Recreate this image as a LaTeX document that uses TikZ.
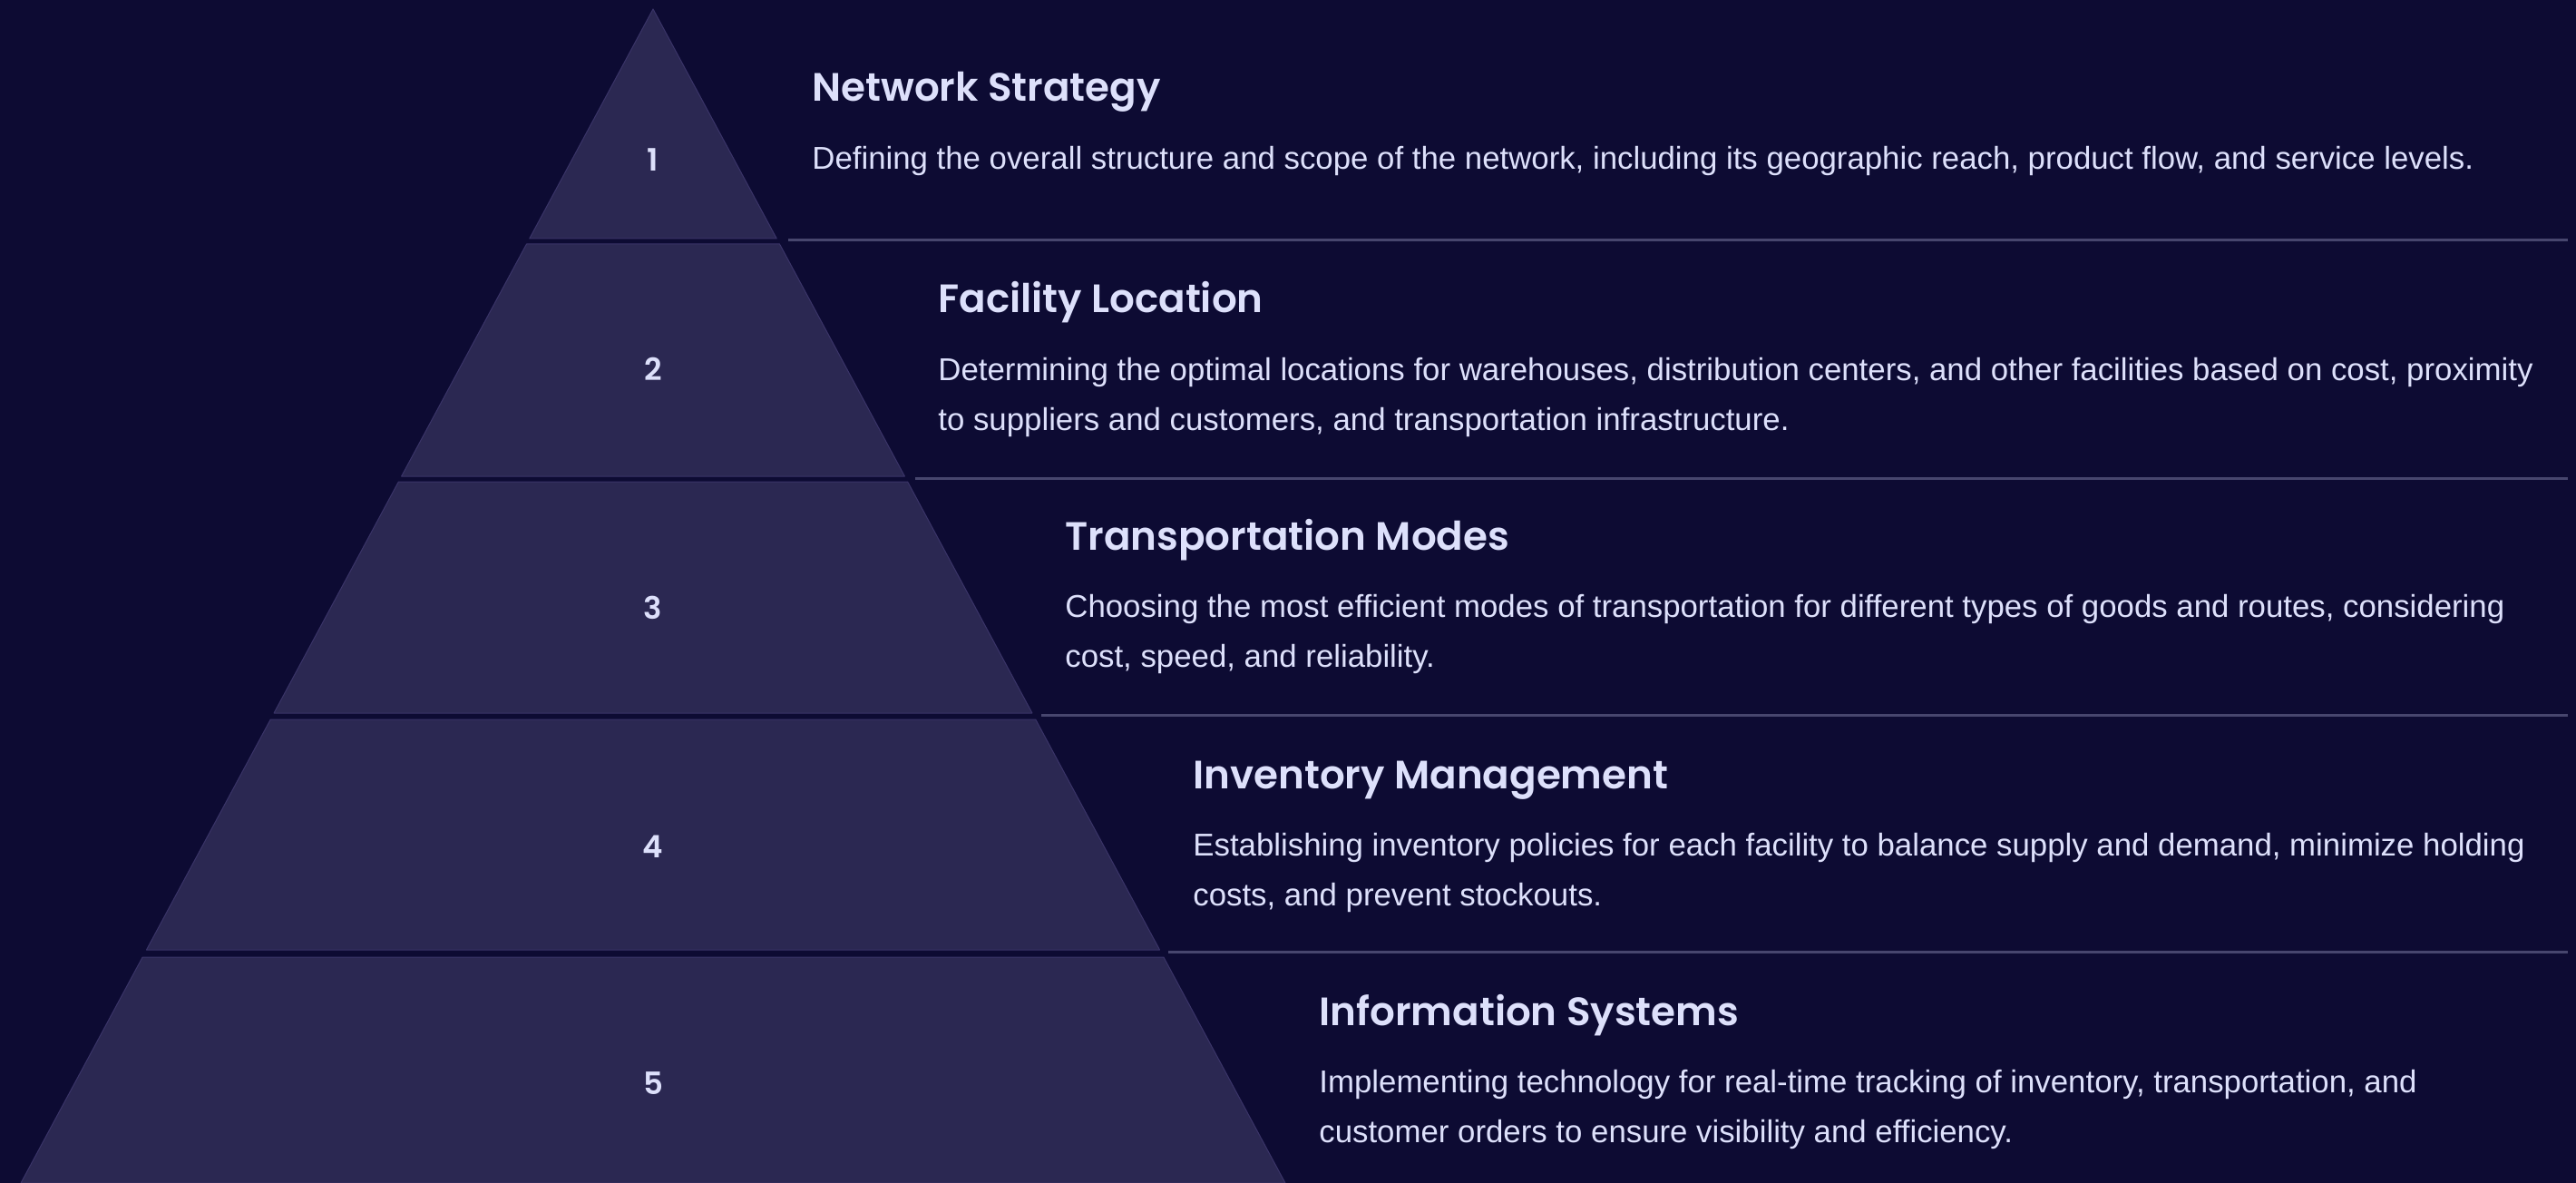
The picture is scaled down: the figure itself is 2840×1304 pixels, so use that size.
\documentclass[tikz,border=0pt]{standalone}
\usepackage{fontspec}
\setmainfont{Liberation Sans}
\newfontfamily\headfont{Poppins SemiBold}
\newfontfamily\numfont{Poppins SemiBold}
\definecolor{bg}{HTML}{0D0B33}
\definecolor{tier}{HTML}{2B2852}
\definecolor{tieredge}{HTML}{3A3468}
\definecolor{ink}{HTML}{DDE0FB}
\definecolor{rule}{HTML}{47466E}
\begin{document}
\begin{tikzpicture}[x=0.5pt,y=-0.5pt,
  tierbox/.style={fill=tier,draw=tieredge,line width=0.5pt,line join=round},
  tiernum/.style={font=\numfont\fontsize{17}{17}\selectfont,text=ink,inner sep=0pt},
  heading/.style={font=\headfont\fontsize{21.8}{24}\selectfont,text=ink,inner sep=0pt,anchor=base west},
  body/.style={font=\fontsize{17.4}{27.2}\selectfont,text=ink,inner sep=0pt,anchor=base west,align=left},
  divider/.style={draw=rule,line width=1.5pt}]
  % canvas
  \fill[bg] (0,0) rectangle (2840,1304);
  \useasboundingbox (0,0) rectangle (2840,1304);
  % pyramid tiers: apex at (720,10), sides widen by 0.5386 per unit of depth
  \foreach \i/\ta/\tb in {1/10/263,2/269/525,3/531/786,4/793/1047,5/1055/1304}{
    \pgfmathsetmacro\wa{(\ta-10)*0.5386}
    \pgfmathsetmacro\wb{(\tb-10)*0.5386}
    \filldraw[tierbox] (720-\wa,\ta) -- (720+\wa,\ta) -- (720+\wb,\tb) -- (720-\wb,\tb) -- cycle;
  }
  % tier numbers
  \node[tiernum] (n1) at (720,176) {1};
  \node[tiernum] (n2) at (720,407) {2};
  \node[tiernum] (n3) at (720,670) {3};
  \node[tiernum] (n4) at (720,933) {4};
  \node[tiernum] (n5) at (720,1194) {5};
  % dividers between the text rows
  \coordinate (d1a) at (869,265);  \coordinate (d1b) at (2831,265);
  \coordinate (d2a) at (1009,527); \coordinate (d2b) at (2831,527);
  \coordinate (d3a) at (1148,788); \coordinate (d3b) at (2831,788);
  \coordinate (d4a) at (1288,1049);\coordinate (d4b) at (2831,1049);
  \draw[divider] (d1a) -- (d1b);
  \draw[divider] (d2a) -- (d2b);
  \draw[divider] (d3a) -- (d3b);
  \draw[divider] (d4a) -- (d4b);
  % headings
  \node[heading] (h1) at (895,112) {Network Strategy};
  \node[heading] (h2) at (1034,345) {Facility Location};
  \node[heading] (h3) at (1174,606) {Transportation Modes};
  \node[heading] (h4) at (1315,869) {Inventory Management};
  \node[heading] (h5) at (1454,1130) {Information Systems};
  % descriptions (a multi-line node sits on the baseline of its last line)
  \node[body] (b1) at (895,187) {Defining the overall structure and scope of the network, including its geographic reach, product flow, and service levels.};
  \node[body] (b2) at (1034,474) {Determining the optimal locations for warehouses, distribution centers, and other facilities based on cost, proximity\\to suppliers and customers, and transportation infrastructure.};
  \node[body] (b3) at (1174,735) {Choosing the most efficient modes of transportation for different types of goods and routes, considering\\cost, speed, and reliability.};
  \node[body] (b4) at (1315,998) {Establishing inventory policies for each facility to balance supply and demand, minimize holding\\costs, and prevent stockouts.};
  \node[body] (b5) at (1454,1259) {Implementing technology for real-time tracking of inventory, transportation, and\\customer orders to ensure visibility and efficiency.};
\end{tikzpicture}
\end{document}
